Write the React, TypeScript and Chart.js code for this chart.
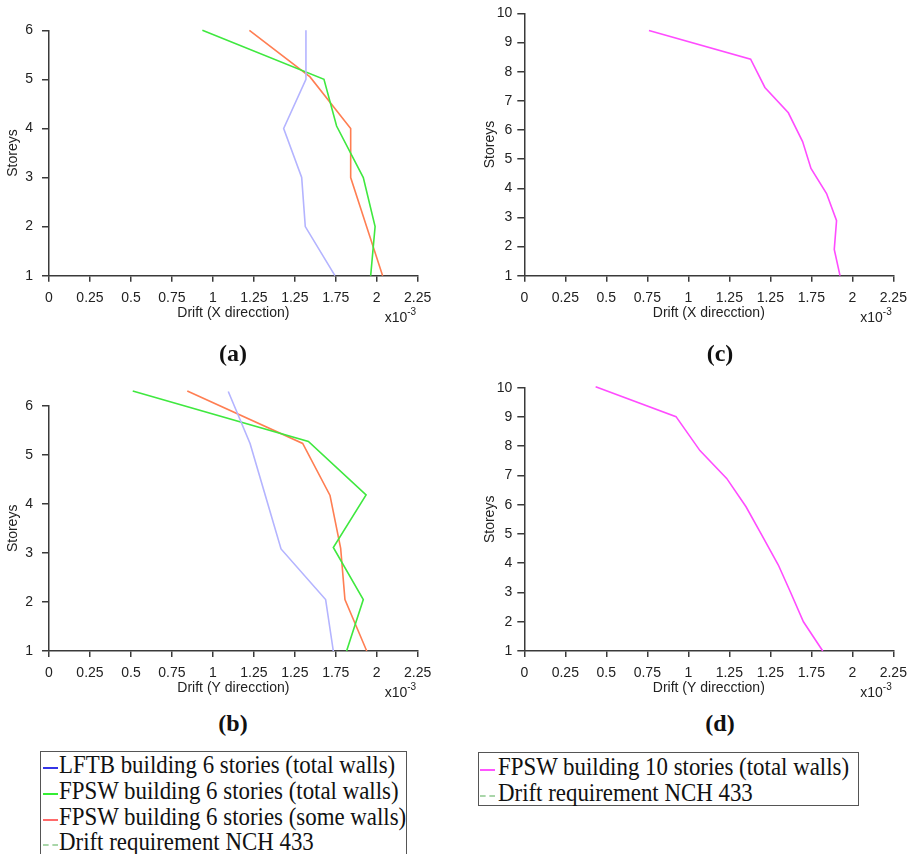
import React, { useEffect, useRef } from 'react';
import { Chart, registerables } from 'chart.js';
Chart.register(...registerables);

const FONT = "'Liberation Sans', Arial, sans-serif";
const SERIF = "'Liberation Serif', 'Times New Roman', serif";
const AXIS = '#3a3a3a';
const TXT = '#222';

// Tick values and labels (original figure labels 1.5 as "1.25")
const xTickValues = [0, 0.25, 0.5, 0.75, 1, 1.25, 1.5, 1.75, 2, 2.25];
const xTickLabels = ['0', '0.25', '0.5', '0.75', '1', '1.25', '1.25', '1.75', '2', '2.25'];
const yTicks6 = [1, 2, 3, 4, 5, 6];
const yTicks10 = [1, 2, 3, 4, 5, 6, 7, 8, 9, 10];

// (a) X direction, 6 stories  (drift in x10^-3)
const aLftbStoreys = [1, 2, 3, 4, 5, 6];
const aLftbDrift = [1.745, 1.564, 1.542, 1.432, 1.568, 1.568];
const aFpswTotalStoreys = [1, 2, 3, 4.05, 5, 6];
const aFpswTotalDrift = [1.963, 1.99, 1.918, 1.755, 1.678, 0.936];
const aFpswSomeStoreys = [1, 2, 3, 4, 5.05, 6];
const aFpswSomeDrift = [2.036, 1.938, 1.841, 1.841, 1.593, 1.223];

// (b) Y direction, 6 stories
const bLftbStoreys = [1, 2.05, 3.08, 4.15, 5.23, 6.29];
const bLftbDrift = [1.735, 1.688, 1.416, 1.322, 1.227, 1.094];
const bFpswTotalStoreys = [1, 2.05, 3.11, 4.18, 5.27, 6.3];
const bFpswTotalDrift = [1.816, 1.918, 1.735, 1.935, 1.583, 0.511];
const bFpswSomeStoreys = [1, 2.05, 3.09, 4.17, 5.23, 6.3];
const bFpswSomeDrift = [1.939, 1.806, 1.78, 1.715, 1.548, 0.844];

// (c) X direction, 10 stories
const cFpswStoreys = [1, 1.9, 2.89, 3.82, 4.68, 5.6, 6.59, 7.46, 8.43, 9.41];
const cFpswDrift = [1.925, 1.89, 1.904, 1.843, 1.748, 1.697, 1.61, 1.467, 1.38, 0.76];

// (d) Y direction, 10 stories
const dFpswStoreys = [1, 2, 3, 3.94, 4.94, 5.93, 6.9, 7.85, 9.01, 10.03];
const dFpswDrift = [1.82, 1.702, 1.624, 1.549, 1.45, 1.352, 1.234, 1.071, 0.925, 0.435];

const C_BLUE = '#b4b4ff';
const C_GREEN = '#3fe83f';
const C_ORANGE = '#ff7e52';
const C_MAGENTA = '#ff4cff';

type Series = { label: string; color: string; storeys: number[]; drift: number[] };
type Area = { left: number; top: number; right: number; bottom: number };
type PanelProps = {
  left: number; top: number; width: number; height: number;
  area: Area; series: Series[]; yTicks: number[]; xTitle: string;
  xTitleY: number; yTitleX: number; yPad: number;
};

const expPlugin = {
  id: 'exp',
  afterDraw(chart: any) {
    const ctx = chart.ctx;
    const ca = chart.chartArea;
    const x = ca.right - 33;
    const y = ca.bottom + 42.5;
    ctx.save();
    ctx.fillStyle = TXT;
    ctx.textBaseline = 'middle';
    ctx.textAlign = 'left';
    ctx.font = `14px ${FONT}`;
    ctx.fillText('x10', x, y);
    const w = ctx.measureText('x10').width;
    ctx.font = `10px ${FONT}`;
    ctx.fillText('-3', x + w, y - 6);
    ctx.restore();
  },
};

function Panel(p: PanelProps) {
  const ref = useRef<HTMLCanvasElement>(null);
  useEffect(() => {
    const lh = 14 * 1.2;
    const chart = new Chart(ref.current as HTMLCanvasElement, {
      type: 'line',
      data: {
        datasets: p.series.map((s) => ({
          label: s.label,
          data: s.drift.map((d, i) => ({ x: d, y: s.storeys[i] })),
          borderColor: s.color,
          backgroundColor: s.color,
          borderWidth: 1.6,
          pointRadius: 0,
          tension: 0,
          fill: false,
          clip: false as any,
        })),
      },
      options: {
        responsive: false,
        maintainAspectRatio: false,
        animation: false,
        layout: { padding: { left: 0, top: p.area.top, right: p.width - p.area.right, bottom: 0 } },
        plugins: { legend: { display: false }, tooltip: { enabled: false } },
        scales: {
          x: {
            type: 'linear',
            min: 0,
            max: 2.25,
            afterBuildTicks: (s: any) => { s.ticks = xTickValues.map((v) => ({ value: v })); },
            afterFit: (s: any) => { s.height = p.height - p.area.bottom; },
            ticks: {
              autoSkip: false, maxRotation: 0, minRotation: 0,
              callback: (_v: any, i: number) => xTickLabels[i],
              color: TXT, font: { size: 14, family: FONT }, padding: 8,
            },
            grid: { drawOnChartArea: false, drawTicks: true, tickLength: 6, color: AXIS, lineWidth: 1.5 },
            border: { color: AXIS, width: 1.5 },
            title: {
              display: true, text: p.xTitle, color: TXT,
              font: { size: 14, family: FONT },
              padding: { top: 0, bottom: p.height - p.xTitleY - lh / 2 },
            },
          },
          y: {
            type: 'linear',
            min: 1,
            max: p.yTicks[p.yTicks.length - 1],
            afterBuildTicks: (s: any) => { s.ticks = p.yTicks.map((v) => ({ value: v })); },
            afterFit: (s: any) => { s.width = p.area.left; },
            ticks: { autoSkip: false, color: TXT, font: { size: 14, family: FONT }, padding: p.yPad },
            grid: { drawOnChartArea: false, drawTicks: true, tickLength: 7, color: AXIS, lineWidth: 1.5 },
            border: { color: AXIS, width: 1.5 },
            title: {
              display: true, text: 'Storeys', color: TXT,
              font: { size: 14, family: FONT },
              padding: { top: p.yTitleX - lh / 2, bottom: 0 },
            },
          },
        },
      } as any,
      plugins: [expPlugin],
    });
    return () => chart.destroy();
  }, []);
  return (
    <canvas
      ref={ref}
      width={p.width}
      height={p.height}
      style={{ position: 'absolute', left: p.left, top: p.top, width: p.width, height: p.height }}
    />
  );
}

const seriesA: Series[] = [
  { label: 'LFTB building 6 stories (total walls)', color: C_BLUE, storeys: aLftbStoreys, drift: aLftbDrift },
  { label: 'FPSW building 6 stories (total walls)', color: C_GREEN, storeys: aFpswTotalStoreys, drift: aFpswTotalDrift },
  { label: 'FPSW building 6 stories (some walls)', color: C_ORANGE, storeys: aFpswSomeStoreys, drift: aFpswSomeDrift },
];
const seriesB: Series[] = [
  { label: 'LFTB building 6 stories (total walls)', color: C_BLUE, storeys: bLftbStoreys, drift: bLftbDrift },
  { label: 'FPSW building 6 stories (total walls)', color: C_GREEN, storeys: bFpswTotalStoreys, drift: bFpswTotalDrift },
  { label: 'FPSW building 6 stories (some walls)', color: C_ORANGE, storeys: bFpswSomeStoreys, drift: bFpswSomeDrift },
];
const seriesC: Series[] = [
  { label: 'FPSW building 10 stories (total walls)', color: C_MAGENTA, storeys: cFpswStoreys, drift: cFpswDrift },
];
const seriesD: Series[] = [
  { label: 'FPSW building 10 stories (total walls)', color: C_MAGENTA, storeys: dFpswStoreys, drift: dFpswDrift },
];

const legendLeft = [
  { text: 'LFTB building 6 stories (total walls)', color: '#3434e6', dashed: false },
  { text: 'FPSW building 6 stories (total walls)', color: '#33ee33', dashed: false },
  { text: 'FPSW building 6 stories (some walls)', color: '#ff6a6a', dashed: false },
  { text: 'Drift requirement NCH 433', color: '#a9d6a9', dashed: true },
];
const legendRight = [
  { text: 'FPSW building 10 stories (total walls)', color: '#ff55ff', dashed: false },
  { text: 'Drift requirement NCH 433', color: '#a9d6a9', dashed: true },
];

function Label({ x, y, text }: { x: number; y: number; text: string }) {
  return (
    <div
      style={{
        position: 'absolute', left: x, top: y, transform: 'translate(-50%, -50%)',
        fontFamily: SERIF, fontWeight: 'bold', fontSize: 24, lineHeight: '24px', color: '#111',
        whiteSpace: 'nowrap',
      }}
    >
      {text}
    </div>
  );
}

function LegendBox({ left, top, width, height, items, rowTops, markerX, textX }: any) {
  return (
    <div
      style={{
        position: 'absolute', left, top, width, height, border: '1px solid #555',
        boxSizing: 'border-box', background: '#fff',
      }}
    >
      {items.map((it: any, i: number) => (
        <div key={i} style={{ position: 'absolute', left: 0, top: rowTops[i] - 14, height: 26, width: width }}>
          <div
            style={{
              position: 'absolute', left: markerX, top: 15, width: 15, height: 0,
              borderTop: `2px ${it.dashed ? 'dashed' : 'solid'} ${it.color}`,
            }}
          />
          <div
            style={{
              position: 'absolute', left: textX, top: 0, fontFamily: SERIF, fontSize: 26,
              lineHeight: '26px', color: '#111', whiteSpace: 'nowrap',
              transform: 'scaleX(0.88)', transformOrigin: 'left center',
            }}
          >
            {it.text}
          </div>
        </div>
      ))}
    </div>
  );
}

export default function App() {
  return (
    <div
      style={{
        position: 'absolute', left: 0, top: 0, width: 918, height: 854, overflow: 'hidden',
        background: '#fff',
      }}
    >
      <Panel left={0} top={0} width={440} height={330}
        area={{ left: 49, top: 30.3, right: 417.7, bottom: 275.7 }} yPad={9}
        series={seriesA} yTicks={yTicks6} xTitle="Drift (X direcction)" xTitleY={313} yTitleX={13} />
      <Panel left={440} top={0} width={478} height={330}
        area={{ left: 84.3, top: 13.3, right: 453.3, bottom: 275.7 }} yPad={5}
        series={seriesC} yTicks={yTicks10} xTitle="Drift (X direcction)" xTitleY={313} yTitleX={50} />
      <Panel left={0} top={365} width={440} height={340}
        area={{ left: 49, top: 40.7, right: 417.7, bottom: 286 }} yPad={9}
        series={seriesB} yTicks={yTicks6} xTitle="Drift (Y direcction)" xTitleY={323.3} yTitleX={13} />
      <Panel left={440} top={365} width={478} height={340}
        area={{ left: 84.3, top: 22.7, right: 453.3, bottom: 286 }} yPad={5}
        series={seriesD} yTicks={yTicks10} xTitle="Drift (Y direcction)" xTitleY={323.3} yTitleX={50} />
      <Label x={233} y={353} text="(a)" />
      <Label x={720} y={353} text="(c)" />
      <Label x={233} y={723} text="(b)" />
      <Label x={720} y={723} text="(d)" />
      <LegendBox left={40} top={750.7} width={367} height={120} items={legendLeft}
        rowTops={[14.3, 40, 66, 91]} markerX={1.7} textX={18} />
      <LegendBox left={477.7} top={751.7} width={381} height={54.3} items={legendRight}
        rowTops={[15, 41]} markerX={1.6} textX={19} />
    </div>
  );
}
